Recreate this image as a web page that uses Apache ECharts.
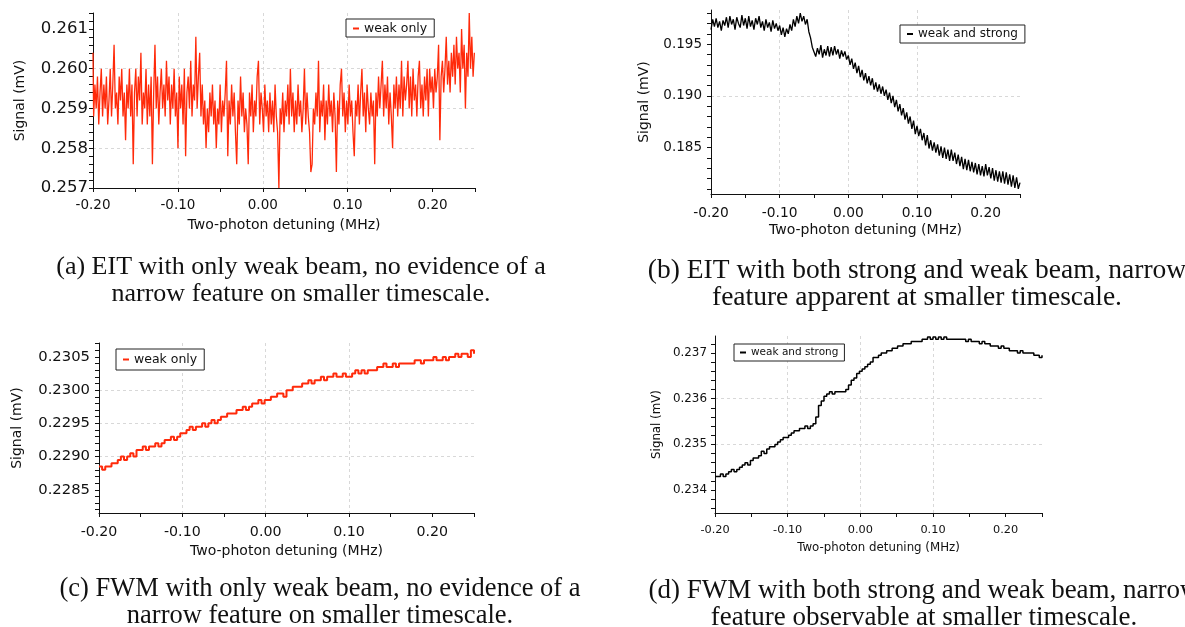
<!DOCTYPE html>
<html>
<head>
<meta charset="utf-8">
<script src="https://cdn.jsdelivr.net/npm/echarts@6/dist/echarts.min.js"></script>
<style>
html, body { margin: 0; padding: 0; background: #fff; }
#main { width: 1185px; height: 627px; }
</style>
</head>
<body>
<div id="main"></div>
<script>
// detuning range shared by every panel (MHz); traces are sampled evenly over it
var X_START = -0.20, X_END = 0.25;
var xLabelTicks = [-0.2, -0.1, 0, 0.1, 0.2];
var xMinorTicks = [-0.2, -0.15, -0.1, -0.05, 0, 0.05, 0.1, 0.15, 0.2, 0.25];

// (a) EIT, weak beam only  (mV)
var eitWeak = [
    0.2604, 0.2588, 0.2596, 0.2590, 0.2598, 0.2586, 0.2594, 0.2600, 0.2588, 0.2596,
    0.2590, 0.2598, 0.2586, 0.2592, 0.2600, 0.2588, 0.2596, 0.2606, 0.2590, 0.2594,
    0.2586, 0.2598, 0.2592, 0.2600, 0.2588, 0.2594, 0.2582, 0.2596, 0.2590, 0.2600,
    0.2588, 0.2596, 0.2576, 0.2594, 0.2600, 0.2588, 0.2598, 0.2592, 0.2604, 0.2586,
    0.2594, 0.2590, 0.2600, 0.2586, 0.2596, 0.2588, 0.2598, 0.2576, 0.2594, 0.2606,
    0.2590, 0.2598, 0.2586, 0.2594, 0.2600, 0.2590, 0.2596, 0.2588, 0.2602, 0.2592,
    0.2598, 0.2586, 0.2596, 0.2590, 0.2600, 0.2588, 0.2594, 0.2580, 0.2598, 0.2590,
    0.2596, 0.2586, 0.2600, 0.2578, 0.2594, 0.2598, 0.2590, 0.2602, 0.2588, 0.2596,
    0.2592, 0.2608, 0.2590, 0.2598, 0.2604, 0.2588, 0.2596, 0.2586, 0.2592, 0.2580,
    0.2590, 0.2584, 0.2594, 0.2588, 0.2596, 0.2586, 0.2592, 0.2580, 0.2590, 0.2586,
    0.2596, 0.2584, 0.2592, 0.2588, 0.2594, 0.2602, 0.2578, 0.2592, 0.2586, 0.2596,
    0.2588, 0.2594, 0.2584, 0.2576, 0.2592, 0.2586, 0.2598, 0.2588, 0.2594, 0.2584,
    0.2590, 0.2586, 0.2576, 0.2594, 0.2588, 0.2596, 0.2584, 0.2592, 0.2588, 0.2598,
    0.2602, 0.2586, 0.2594, 0.2590, 0.2584, 0.2596, 0.2588, 0.2592, 0.2584, 0.2594,
    0.2586, 0.2592, 0.2584, 0.2596, 0.2588, 0.2584, 0.2570, 0.2590, 0.2586, 0.2594,
    0.2584, 0.2592, 0.2588, 0.2596, 0.2586, 0.2600, 0.2588, 0.2594, 0.2584, 0.2592,
    0.2586, 0.2596, 0.2588, 0.2592, 0.2584, 0.2590, 0.2600, 0.2586, 0.2594, 0.2588,
    0.2584, 0.2574, 0.2576, 0.2590, 0.2586, 0.2594, 0.2588, 0.2602, 0.2584, 0.2592,
    0.2588, 0.2596, 0.2582, 0.2592, 0.2586, 0.2596, 0.2588, 0.2592, 0.2584, 0.2594,
    0.2588, 0.2574, 0.2592, 0.2586, 0.2596, 0.2600, 0.2588, 0.2594, 0.2584, 0.2592,
    0.2586, 0.2596, 0.2588, 0.2592, 0.2584, 0.2578, 0.2592, 0.2588, 0.2596, 0.2586,
    0.2594, 0.2600, 0.2588, 0.2594, 0.2584, 0.2596, 0.2590, 0.2586, 0.2594, 0.2588,
    0.2592, 0.2576, 0.2594, 0.2588, 0.2598, 0.2590, 0.2596, 0.2602, 0.2588, 0.2596,
    0.2590, 0.2598, 0.2586, 0.2594, 0.2588, 0.2580, 0.2596, 0.2590, 0.2598, 0.2588,
    0.2596, 0.2590, 0.2602, 0.2588, 0.2598, 0.2592, 0.2596, 0.2602, 0.2590, 0.2598,
    0.2588, 0.2600, 0.2592, 0.2596, 0.2588, 0.2598, 0.2602, 0.2590, 0.2596, 0.2588,
    0.2598, 0.2592, 0.2600, 0.2588, 0.2600, 0.2594, 0.2598, 0.2590, 0.2600, 0.2594,
    0.2598, 0.2606, 0.2582, 0.2598, 0.2602, 0.2594, 0.2600, 0.2608, 0.2596, 0.2602,
    0.2594, 0.2604, 0.2598, 0.2606, 0.2596, 0.2608, 0.2600, 0.2604, 0.2594, 0.2610,
    0.2600, 0.2606, 0.2590, 0.2604, 0.2598, 0.2614, 0.2600, 0.2608, 0.2598, 0.2604
];

// (b) EIT, strong and weak beam  (mV)
var eitBoth = [
    0.1964, 0.1974, 0.1967, 0.1975, 0.1966, 0.1972, 0.1963, 0.1973, 0.1968, 0.1976,
    0.1966, 0.1977, 0.1969, 0.1974, 0.1964, 0.1976, 0.1970, 0.1966, 0.1978, 0.1968,
    0.1975, 0.1965, 0.1977, 0.1967, 0.1973, 0.1964, 0.1975, 0.1969, 0.1977, 0.1966,
    0.1972, 0.1963, 0.1974, 0.1966, 0.1971, 0.1962, 0.1973, 0.1965, 0.1970, 0.1963,
    0.1968, 0.1959, 0.1966, 0.1957, 0.1965, 0.1960, 0.1969, 0.1963, 0.1974, 0.1967,
    0.1977, 0.1970, 0.1980, 0.1972, 0.1977, 0.1969, 0.1974, 0.1962, 0.1956, 0.1947,
    0.1947, 0.1938, 0.1946, 0.1940, 0.1949, 0.1937, 0.1945, 0.1939, 0.1948, 0.1938,
    0.1947, 0.1939, 0.1948, 0.1940, 0.1945, 0.1936, 0.1944, 0.1938, 0.1943, 0.1935,
    0.1939, 0.1930, 0.1936, 0.1926, 0.1932, 0.1922, 0.1929, 0.1918, 0.1925, 0.1915,
    0.1922, 0.1912, 0.1919, 0.1910, 0.1917, 0.1906, 0.1913, 0.1904, 0.1911, 0.1902,
    0.1909, 0.1900, 0.1906, 0.1896, 0.1903, 0.1893, 0.1900, 0.1889, 0.1896, 0.1885,
    0.1892, 0.1881, 0.1888, 0.1877, 0.1884, 0.1873, 0.1880, 0.1868, 0.1876, 0.1863,
    0.1871, 0.1861, 0.1868, 0.1857, 0.1864, 0.1852, 0.1862, 0.1849, 0.1857, 0.1847,
    0.1855, 0.1845, 0.1853, 0.1842, 0.1851, 0.1840, 0.1850, 0.1839, 0.1848, 0.1837,
    0.1848, 0.1837, 0.1845, 0.1834, 0.1843, 0.1832, 0.1841, 0.1829, 0.1839, 0.1828,
    0.1838, 0.1827, 0.1836, 0.1826, 0.1835, 0.1824, 0.1834, 0.1823, 0.1832, 0.1822,
    0.1834, 0.1823, 0.1831, 0.1820, 0.1830, 0.1818, 0.1828, 0.1817, 0.1827, 0.1816,
    0.1827, 0.1815, 0.1826, 0.1814, 0.1824, 0.1812, 0.1823, 0.1811, 0.1821, 0.1810,
    0.1816
];

// (c) FWM, weak beam only  (mV)
var fwmWeak = [
    0.22885, 0.22880, 0.22885, 0.22885, 0.22890, 0.22890, 0.22895, 0.22900, 0.22895, 0.22900,
    0.22905, 0.22900, 0.22910, 0.22910, 0.22915, 0.22910, 0.22915, 0.22915, 0.22920, 0.22915,
    0.22920, 0.22925, 0.22925, 0.22930, 0.22925, 0.22930, 0.22935, 0.22935, 0.22940, 0.22945,
    0.22940, 0.22945, 0.22945, 0.22950, 0.22945, 0.22950, 0.22955, 0.22950, 0.22955, 0.22960,
    0.22960, 0.22965, 0.22965, 0.22965, 0.22970, 0.22970, 0.22975, 0.22970, 0.22975, 0.22980,
    0.22980, 0.22985, 0.22980, 0.22985, 0.22985, 0.22990, 0.22990, 0.22995, 0.22995, 0.22990,
    0.23000, 0.23000, 0.23005, 0.23005, 0.23005, 0.23010, 0.23010, 0.23015, 0.23010, 0.23015,
    0.23015, 0.23020, 0.23015, 0.23020, 0.23020, 0.23025, 0.23020, 0.23020, 0.23025, 0.23020,
    0.23020, 0.23025, 0.23030, 0.23025, 0.23030, 0.23025, 0.23030, 0.23030, 0.23030, 0.23035,
    0.23035, 0.23040, 0.23035, 0.23035, 0.23040, 0.23035, 0.23040, 0.23040, 0.23040, 0.23040,
    0.23040, 0.23045, 0.23045, 0.23040, 0.23045, 0.23045, 0.23045, 0.23050, 0.23045, 0.23045,
    0.23050, 0.23045, 0.23050, 0.23050, 0.23055, 0.23050, 0.23055, 0.23055, 0.23050, 0.23060,
    0.23055
];

// (d) FWM, strong and weak beam  (mV)
var fwmBoth = [
    0.23430, 0.23430, 0.23435, 0.23430, 0.23435, 0.23440, 0.23445, 0.23440, 0.23445, 0.23450,
    0.23455, 0.23460, 0.23455, 0.23465, 0.23470, 0.23470, 0.23475, 0.23485, 0.23480, 0.23490,
    0.23495, 0.23495, 0.23500, 0.23505, 0.23510, 0.23515, 0.23515, 0.23520, 0.23525, 0.23530,
    0.23530, 0.23535, 0.23535, 0.23540, 0.23535, 0.23540, 0.23545, 0.23560, 0.23585, 0.23595,
    0.23605, 0.23610, 0.23615, 0.23610, 0.23615, 0.23615, 0.23615, 0.23615, 0.23620, 0.23630,
    0.23640, 0.23645, 0.23655, 0.23660, 0.23665, 0.23670, 0.23675, 0.23680, 0.23690, 0.23690,
    0.23695, 0.23700, 0.23700, 0.23705, 0.23705, 0.23710, 0.23710, 0.23715, 0.23715, 0.23720,
    0.23720, 0.23720, 0.23725, 0.23725, 0.23725, 0.23725, 0.23730, 0.23730, 0.23735, 0.23730,
    0.23735, 0.23730, 0.23735, 0.23730, 0.23735, 0.23730, 0.23730, 0.23730, 0.23730, 0.23730,
    0.23730, 0.23730, 0.23725, 0.23730, 0.23725, 0.23725, 0.23725, 0.23720, 0.23725, 0.23720,
    0.23720, 0.23715, 0.23715, 0.23715, 0.23710, 0.23715, 0.23710, 0.23710, 0.23705, 0.23705,
    0.23705, 0.23700, 0.23705, 0.23700, 0.23700, 0.23700, 0.23700, 0.23695, 0.23695, 0.23690,
    0.23695
];

// labelled y ticks of each panel
var yTicksA = [0.257, 0.258, 0.259, 0.260, 0.261];
var yTicksB = [0.185, 0.190, 0.195];
var yTicksC = [0.2285, 0.2290, 0.2295, 0.2300, 0.2305];
var yTicksD = [0.234, 0.235, 0.236, 0.237];

var captions = [
    '(a) EIT with only weak beam, no evidence of a\nnarrow feature on smaller timescale.',
    '(b) EIT with both strong and weak beam, narrow\nfeature apparent at smaller timescale.',
    '(c) FWM with only weak beam, no evidence of a\nnarrow feature on smaller timescale.',
    '(d) FWM with both strong and weak beam, narrow\nfeature observable at smaller timescale.'
];

// unlabelled tick marks between the labelled ones
function steps(from, to, step) {
    var out = [];
    var n = Math.round((to - from) / step);
    for (var k = 0; k <= n; k++) out.push(+(from + k * step).toFixed(6));
    return out;
}

// pair each reading with its detuning on the even sweep grid
function sampled(values) {
    var n = values.length;
    return values.map(function (v, i) {
        return [X_START + i * (X_END - X_START) / (n - 1), v];
    });
}

var RED = '#ff2a0a';
var SANS = 'DejaVu Sans';

var panels = [
    {legend: 'weak only', data: eitWeak, color: RED, step: 'middle', lw: 1.3,
        grid: {left: 93, top: 13, width: 382, height: 175},
        yMin: 0.257, yMax: 0.2614, ySplit: 4, yLabels: yTicksA, yMinor: steps(0.257, 0.2614, 0.0002), dig: 3,
        fy: 16.5, fx: 13.5, fn: 14, xMargin: 10, xGap: 30, yMargin: 5, yGap: 66,
        leg: {left: 346, top: 19, size: 12.5, pad: [3, 7, 2, 7]},
        cap: {x: 301, y: 254, size: 26}},
    {legend: 'weak and strong', data: eitBoth, color: '#000', step: false, lw: 1.3,
        grid: {left: 711, top: 10, width: 309, height: 184},
        yMin: 0.1805, yMax: 0.1983, ySplit: 3, yLabels: yTicksB, yMinor: steps(0.181, 0.198, 0.001), dig: 3,
        fy: 13.5, fx: 13.8, fn: 14, xMargin: 12, xGap: 29, yMargin: 9, yGap: 60,
        leg: {left: 900, top: 25, size: 12, pad: [3, 7, 3, 7]},
        cap: {x: 917, y: 257, size: 27.5}},
    {legend: 'weak only', data: fwmWeak, color: RED, step: 'end', lw: 2,
        grid: {left: 99, top: 343, width: 375, height: 170},
        yMin: 0.22815, yMax: 0.23071, ySplit: 5, yLabels: yTicksC, yMinor: steps(0.2282, 0.2307, 0.0001), dig: 4,
        fy: 14.8, fx: 14.2, fn: 14, xMargin: 12, xGap: 31, yMargin: 9, yGap: 75,
        leg: {left: 116, top: 349, size: 12.5, pad: [4, 7, 4, 7]},
        cap: {x: 320, y: 576, size: 26.5}},
    {legend: 'weak and strong', data: fwmBoth, color: '#000', step: 'end', lw: 1.5,
        grid: {left: 715, top: 336, width: 327, height: 177},
        yMin: 0.2335, yMax: 0.23737, ySplit: 4, yLabels: yTicksD, yMinor: steps(0.2336, 0.2372, 0.0002), dig: 3,
        fy: 11.9, fx: 11.3, fn: 11.8, xMargin: 12, xGap: 29, yMargin: 8, yGap: 52,
        leg: {left: 734, top: 344, size: 10.5, pad: [3, 6, 3, 6]},
        cap: {x: 924, y: 577, size: 27}}
];

var option = {
    animation: false,
    backgroundColor: '#fff',
    textStyle: {fontFamily: SANS},
    grid: [], xAxis: [], yAxis: [], series: [], legend: [], title: []
};

panels.forEach(function (p, k) {
    option.grid.push(Object.assign({show: false}, p.grid));

    // axis line + all tick marks
    option.xAxis.push({
        type: 'value', gridIndex: k, position: 'bottom', min: X_START, max: X_END,
        axisLine: {onZero: false, lineStyle: {color: '#111', width: 1}},
        axisTick: {length: 4, customValues: xMinorTicks, lineStyle: {color: '#111'}},
        axisLabel: {show: false},
        splitLine: {show: false},
        name: 'Two-photon detuning (MHz)', nameLocation: 'middle', nameGap: p.xGap,
        nameTextStyle: {fontSize: p.fn, color: '#111', fontFamily: SANS}
    });
    // labels + dashed grid
    option.xAxis.push({
        type: 'value', gridIndex: k, position: 'bottom', min: X_START, max: X_END, interval: 0.1,
        axisLine: {show: false, onZero: false},
        axisTick: {show: false, customValues: xLabelTicks},
        axisLabel: {customValues: xLabelTicks, margin: p.xMargin, fontSize: p.fx, color: '#111',
            formatter: function (v) { return v.toFixed(2); }},
        splitLine: {show: true, showMinLine: false, showMaxLine: false,
            lineStyle: {color: '#d8d8d8', type: [3, 3], width: 1}}
    });

    option.yAxis.push({
        type: 'value', gridIndex: k, position: 'left', min: p.yMin, max: p.yMax,
        axisLine: {onZero: false, lineStyle: {color: '#111', width: 1}},
        axisTick: {length: 4, customValues: p.yMinor, lineStyle: {color: '#111'}},
        axisLabel: {show: false},
        splitLine: {show: false},
        name: 'Signal (mV)', nameLocation: 'middle', nameGap: p.yGap,
        nameTextStyle: {fontSize: p.fn, color: '#111', fontFamily: SANS}
    });
    option.yAxis.push({
        type: 'value', gridIndex: k, position: 'left', min: p.yMin, max: p.yMax, splitNumber: p.ySplit,
        axisLine: {show: false, onZero: false},
        axisTick: {show: false, customValues: p.yLabels},
        axisLabel: {customValues: p.yLabels, margin: p.yMargin, fontSize: p.fy, color: '#111',
            formatter: function (v) { return v.toFixed(p.dig); }},
        splitLine: {show: true, showMinLine: false, showMaxLine: false,
            lineStyle: {color: '#d8d8d8', type: [3, 3], width: 1}}
    });

    option.series.push({
        type: 'line', name: p.legend, xAxisIndex: 2 * k, yAxisIndex: 2 * k,
        data: sampled(p.data), step: p.step, showSymbol: false, symbol: 'none',
        color: p.color, lineStyle: {color: p.color, width: p.lw}, silent: true
    });

    option.legend.push({
        data: [p.legend], left: p.leg.left, top: p.leg.top, orient: 'horizontal',
        padding: p.leg.pad, icon: 'rect', itemWidth: 6, itemHeight: 2,
        borderColor: '#222', borderWidth: 1, borderRadius: 0, backgroundColor: '#fff',
        selectedMode: false,
        textStyle: {fontSize: p.leg.size, color: '#111', fontFamily: SANS}
    });

    option.title.push({
        text: captions[k], left: p.cap.x, top: p.cap.y, textAlign: 'center', padding: 0,
        textStyle: {fontFamily: 'Liberation Serif', fontWeight: 'normal', fontSize: p.cap.size,
            lineHeight: 27, color: '#111'}
    });
});

var chart = echarts.init(document.getElementById('main'), null, {renderer: 'canvas'});
chart.setOption(option);
</script>
</body>
</html>
